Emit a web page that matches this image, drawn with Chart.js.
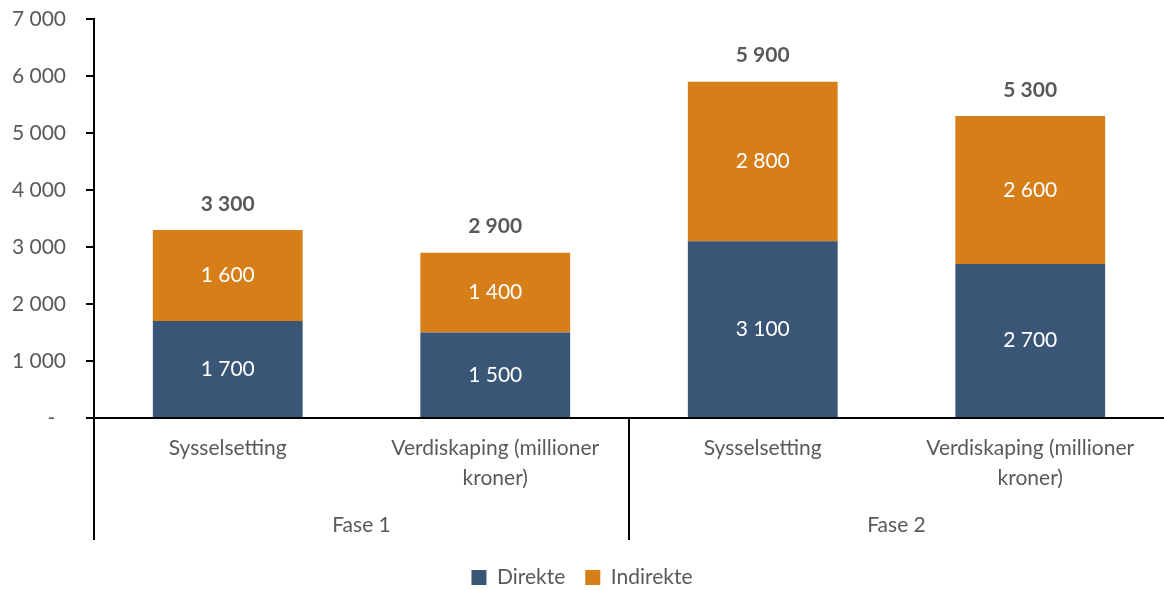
<!DOCTYPE html>
<html>
<head>
<meta charset="utf-8">
<script src="https://cdn.jsdelivr.net/npm/chart.js@4"></script>
<style>
  html, body { margin: 0; padding: 0; background: #fff; }
  #wrap { width: 1164px; height: 590px; }
</style>
</head>
<body>
<div id="wrap"><canvas id="myChart" width="1164" height="590"></canvas></div>
<script>
// data
const categories = [
  'Sysselsetting',
  ['Verdiskaping (millioner', 'kroner)'],
  'Sysselsetting',
  ['Verdiskaping (millioner', 'kroner)']
];
const groups = ['Fase 1', 'Fase 2'];
const groupOf = [0, 0, 1, 1];
const direkte = [1700, 1500, 3100, 2700];
const indirekte = [1600, 1400, 2800, 2600];
const yTicks = [0, 1000, 2000, 3000, 4000, 5000, 6000, 7000];

const textColor = '#595959';
const fontFamily = 'Lato, "Open Sans", sans-serif';

const fmt = v => v === 0 ? '-  ' : String(v).replace(/\B(?=(\d{3})+(?!\d))/g, ' ');

const barLabels = {
  id: 'barLabels',
  afterDatasetsDraw(chart) {
    const ctx = chart.ctx;
    ctx.save();
    ctx.textAlign = 'center';
    ctx.textBaseline = 'middle';
    ctx.fillStyle = '#ffffff';
    ctx.font = '21px ' + fontFamily;
    chart.data.datasets.forEach((ds, i) => {
      chart.getDatasetMeta(i).data.forEach((bar, j) => {
        ctx.fillText(fmt(ds.data[j]), bar.x, (bar.y + bar.base) / 2);
      });
    });
    // totals over each stack
    ctx.fillStyle = textColor;
    ctx.font = 'bold 21px ' + fontFamily;
    chart.getDatasetMeta(1).data.forEach((bar, j) => {
      ctx.fillText(fmt(direkte[j] + indirekte[j]), bar.x, bar.y - 26);
    });
    ctx.restore();
  }
};

const groupAxis = {
  id: 'groupAxis',
  afterDraw(chart) {
    const ctx = chart.ctx;
    const x = chart.scales.x;
    const area = chart.chartArea;
    const half = (x.getPixelForValue(1) - x.getPixelForValue(0)) / 2;
    const lineBottom = 540;
    ctx.save();
    ctx.strokeStyle = '#000';
    ctx.lineWidth = 2;
    // separators: left edge and between groups
    const seps = [x.getPixelForValue(0) - half];
    for (let i = 1; i < groupOf.length; i++) {
      if (groupOf[i] !== groupOf[i - 1]) seps.push(x.getPixelForValue(i) - half);
    }
    seps.forEach(px => {
      ctx.beginPath();
      ctx.moveTo(px, area.bottom);
      ctx.lineTo(px, lineBottom);
      ctx.stroke();
    });
    ctx.fillStyle = textColor;
    ctx.font = '21px ' + fontFamily;
    ctx.textAlign = 'center';
    ctx.textBaseline = 'middle';
    groups.forEach((g, gi) => {
      const idx = groupOf.map((v, i) => v === gi ? i : -1).filter(i => i >= 0);
      const cx = (x.getPixelForValue(idx[0]) + x.getPixelForValue(idx[idx.length - 1])) / 2;
      ctx.fillText(g, cx, 525);
    });
    ctx.restore();
  }
};

new Chart(document.getElementById('myChart'), {
  type: 'bar',
  data: {
    labels: categories,
    datasets: [
      { label: 'Direkte', data: direkte, backgroundColor: '#3A5676' },
      { label: 'Indirekte', data: indirekte, backgroundColor: '#D67E18' }
    ]
  },
  options: {
    responsive: false,
    animation: false,
    maintainAspectRatio: false,
    layout: { padding: { top: 19, right: 0, left: 0, bottom: -8 } },
    datasets: { bar: { barPercentage: 0.56, categoryPercentage: 1 } },
    plugins: {
      tooltip: { enabled: false },
      legend: {
        position: 'bottom',
        labels: {
          color: textColor,
          font: { family: fontFamily, size: 21 },
          boxWidth: 15,
          boxHeight: 15,
          padding: 20
        }
      }
    },
    scales: {
      x: {
        stacked: true,
        grid: { display: false },
        border: { color: '#000', width: 2 },
        ticks: {
          color: textColor,
          font: { family: fontFamily, size: 21, lineHeight: 1.45 },
          padding: 7,
          maxRotation: 0,
          autoSkip: false
        },
        afterFit(scale) { scale.height = 129; }
      },
      y: {
        stacked: true,
        min: 0,
        max: 7000,
        afterBuildTicks(scale) { scale.ticks = yTicks.map(v => ({ value: v })); },
        grid: { drawOnChartArea: false, drawTicks: true, tickLength: 8, color: '#000', lineWidth: 2 },
        border: { color: '#000', width: 2 },
        ticks: {
          color: textColor,
          font: { family: fontFamily, size: 21 },
          padding: 20,
          callback: v => fmt(v)
        },
        afterFit(scale) { scale.width = 94; scale.paddingTop = 0; scale.paddingBottom = 0; }
      }
    }
  },
  plugins: [barLabels, groupAxis]
});
</script>
</body>
</html>
